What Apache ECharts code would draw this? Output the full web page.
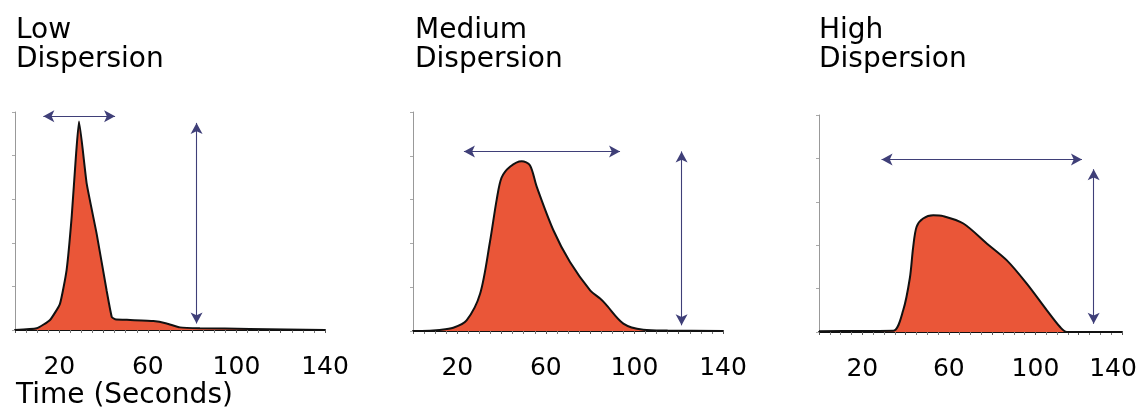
<!DOCTYPE html>
<html>
<head>
<meta charset="utf-8">
<script src="https://cdn.jsdelivr.net/npm/echarts@6/dist/echarts.min.js"></script>
<style>html,body{margin:0;padding:0;background:#fff}#c{width:1137px;height:410px}</style>
</head>
<body>
<div id="c"></div>
<script>
// ---- data ----
var panelTitles = ['Low\nDispersion', 'Medium\nDispersion', 'High\nDispersion'];
var xTitle = 'Time (Seconds)';
var tickLabels = [20, 60, 100, 140];

var lowTime  = [0, 9.8, 15.8, 20.3, 23.3, 25.6, 27.5, 28.9, 32.4, 36.9, 41.4, 43.7, 45.2, 52, 62.5, 68.5, 74.5, 83.5, 106, 140];
var lowValue = [0, 0.8, 4.6, 12, 27.5, 52, 79.5, 95.6, 67, 44, 18, 6, 4.9, 4.6, 4.1, 3, 1.2, 0.8, 0.5, 0];

var medTime  = [0, 3.9, 12, 18.2, 24.2, 30.3, 34.8, 37.8, 40, 43.8, 49.1, 52.8, 55.9, 63.4, 70.9, 80, 84.5, 86.8, 95, 104, 115, 140];
var medValue = [0, 0, 0.5, 1.5, 4.9, 17, 41, 60, 70, 75, 77.5, 75.7, 65.8, 46, 31.5, 18.6, 14.8, 12.5, 3.4, 0.6, 0.2, 0];

var highTime  = [0, 20, 34.3, 38.9, 42, 43.5, 45.1, 48.1, 52.8, 57.4, 66.7, 77.5, 86.8, 96, 105.3, 111.4, 114.5, 140];
var highValue = [0.4, 0.5, 0.6, 10, 25, 39, 48.5, 52.3, 53.8, 53.4, 50, 40.8, 33, 22.3, 10, 2.3, 0, 0];

// arrows: [startX, startY, endX, endY]
var lowSpanArrow    = [12.8, 98, 45.2, 98];
var lowHeightArrow  = [82, 95, 82, 3];
var medSpanArrow    = [23, 82, 93.5, 82];
var medHeightArrow  = [121.3, 82, 121.3, 2.6];
var highSpanArrow   = [28.9, 79.5, 121.5, 79.5];
var highHeightArrow = [126.9, 75, 126.9, 3.8];

// ---- chart ----
var FONT = 'DejaVu Sans';
var fillColor = '#EA5638';
var arrowColor = '#3f3f78';

function pairs(xs, ys) { return xs.map(function (x, i) { return [x, ys[i]]; }); }
function arrowLine(a) { return [{ coord: [a[0], a[1]] }, { coord: [a[2], a[3]] }]; }

var grids = [
  { left: 15, top: 112, width: 310, height: 218, outerBoundsMode: 'none', containLabel: false },
  { left: 413, top: 112, width: 310, height: 219, outerBoundsMode: 'none', containLabel: false },
  { left: 819, top: 115, width: 303, height: 217, outerBoundsMode: 'none', containLabel: false }
];

function makeX(i, lastShift) {
  return {
    type: 'value', gridIndex: i, min: 0, max: 140, interval: 20,
    axisLine: { show: true, lineStyle: { color: '#111', width: 2 } },
    axisTick: { show: true, length: 3, lineStyle: { color: '#555', width: 1 } },
    minorTick: { show: true, splitNumber: 4, length: 3, lineStyle: { color: '#777', width: 1 } },
    splitLine: { show: false },
    axisLabel: {
      show: true, margin: 25, color: '#000', fontFamily: FONT, fontSize: 25,
      formatter: function (v) {
        if (tickLabels.indexOf(v) < 0) return '';
        return (lastShift && v === tickLabels[tickLabels.length - 1]) ? '{s|' + v + '}' : String(v);
      },
      rich: { s: { fontFamily: FONT, fontSize: 25, color: '#000', padding: [0, lastShift || 0, 0, 0] } }
    }
  };
}
function makeY(i) {
  return {
    type: 'value', gridIndex: i, min: 0, max: 100, interval: 20,
    axisLine: { show: true, lineStyle: { color: '#999', width: 1 } },
    axisTick: { show: true, length: 3, lineStyle: { color: '#aaa', width: 1 } },
    splitLine: { show: false },
    axisLabel: { show: false }
  };
}
function makeSeries(i, xs, ys, arrows, smooth) {
  return {
    type: 'line', xAxisIndex: i, yAxisIndex: i,
    data: pairs(xs, ys), smooth: smooth,
    symbol: 'none', z: 3,
    lineStyle: { color: '#111', width: 2 },
    areaStyle: { color: fillColor, opacity: 1 },
    markLine: {
      silent: true, symbol: ['arrow', 'arrow'], symbolSize: [9, 11],
      label: { show: false }, animation: false,
      lineStyle: { color: arrowColor, width: 1.1, type: 'solid' },
      emphasis: { disabled: true },
      data: arrows.map(arrowLine)
    }
  };
}

var titleStyle = { fontFamily: FONT, fontSize: 28, fontWeight: 'normal', color: '#000', lineHeight: 29 };
var titles = [
  { text: panelTitles[0], left: 11, top: 11, textStyle: titleStyle },
  { text: panelTitles[1], left: 410, top: 11, textStyle: titleStyle },
  { text: panelTitles[2], left: 814, top: 11, textStyle: titleStyle },
  { text: xTitle, left: 11, top: 376, textStyle: titleStyle }
];

var chart = echarts.init(document.getElementById('c'), null, { renderer: 'canvas' });
chart.setOption({
  backgroundColor: '#fff',
  animation: false,
  title: titles,
  grid: grids,
  xAxis: [makeX(0, 0), makeX(1, 0), makeX(2, 18)],
  yAxis: [makeY(0), makeY(1), makeY(2)],
  series: [
    makeSeries(0, lowTime, lowValue, [lowSpanArrow, lowHeightArrow], 0.15),
    makeSeries(1, medTime, medValue, [medSpanArrow, medHeightArrow], 0.3),
    makeSeries(2, highTime, highValue, [highSpanArrow, highHeightArrow], 0.3)
  ]
});
</script>
</body>
</html>
